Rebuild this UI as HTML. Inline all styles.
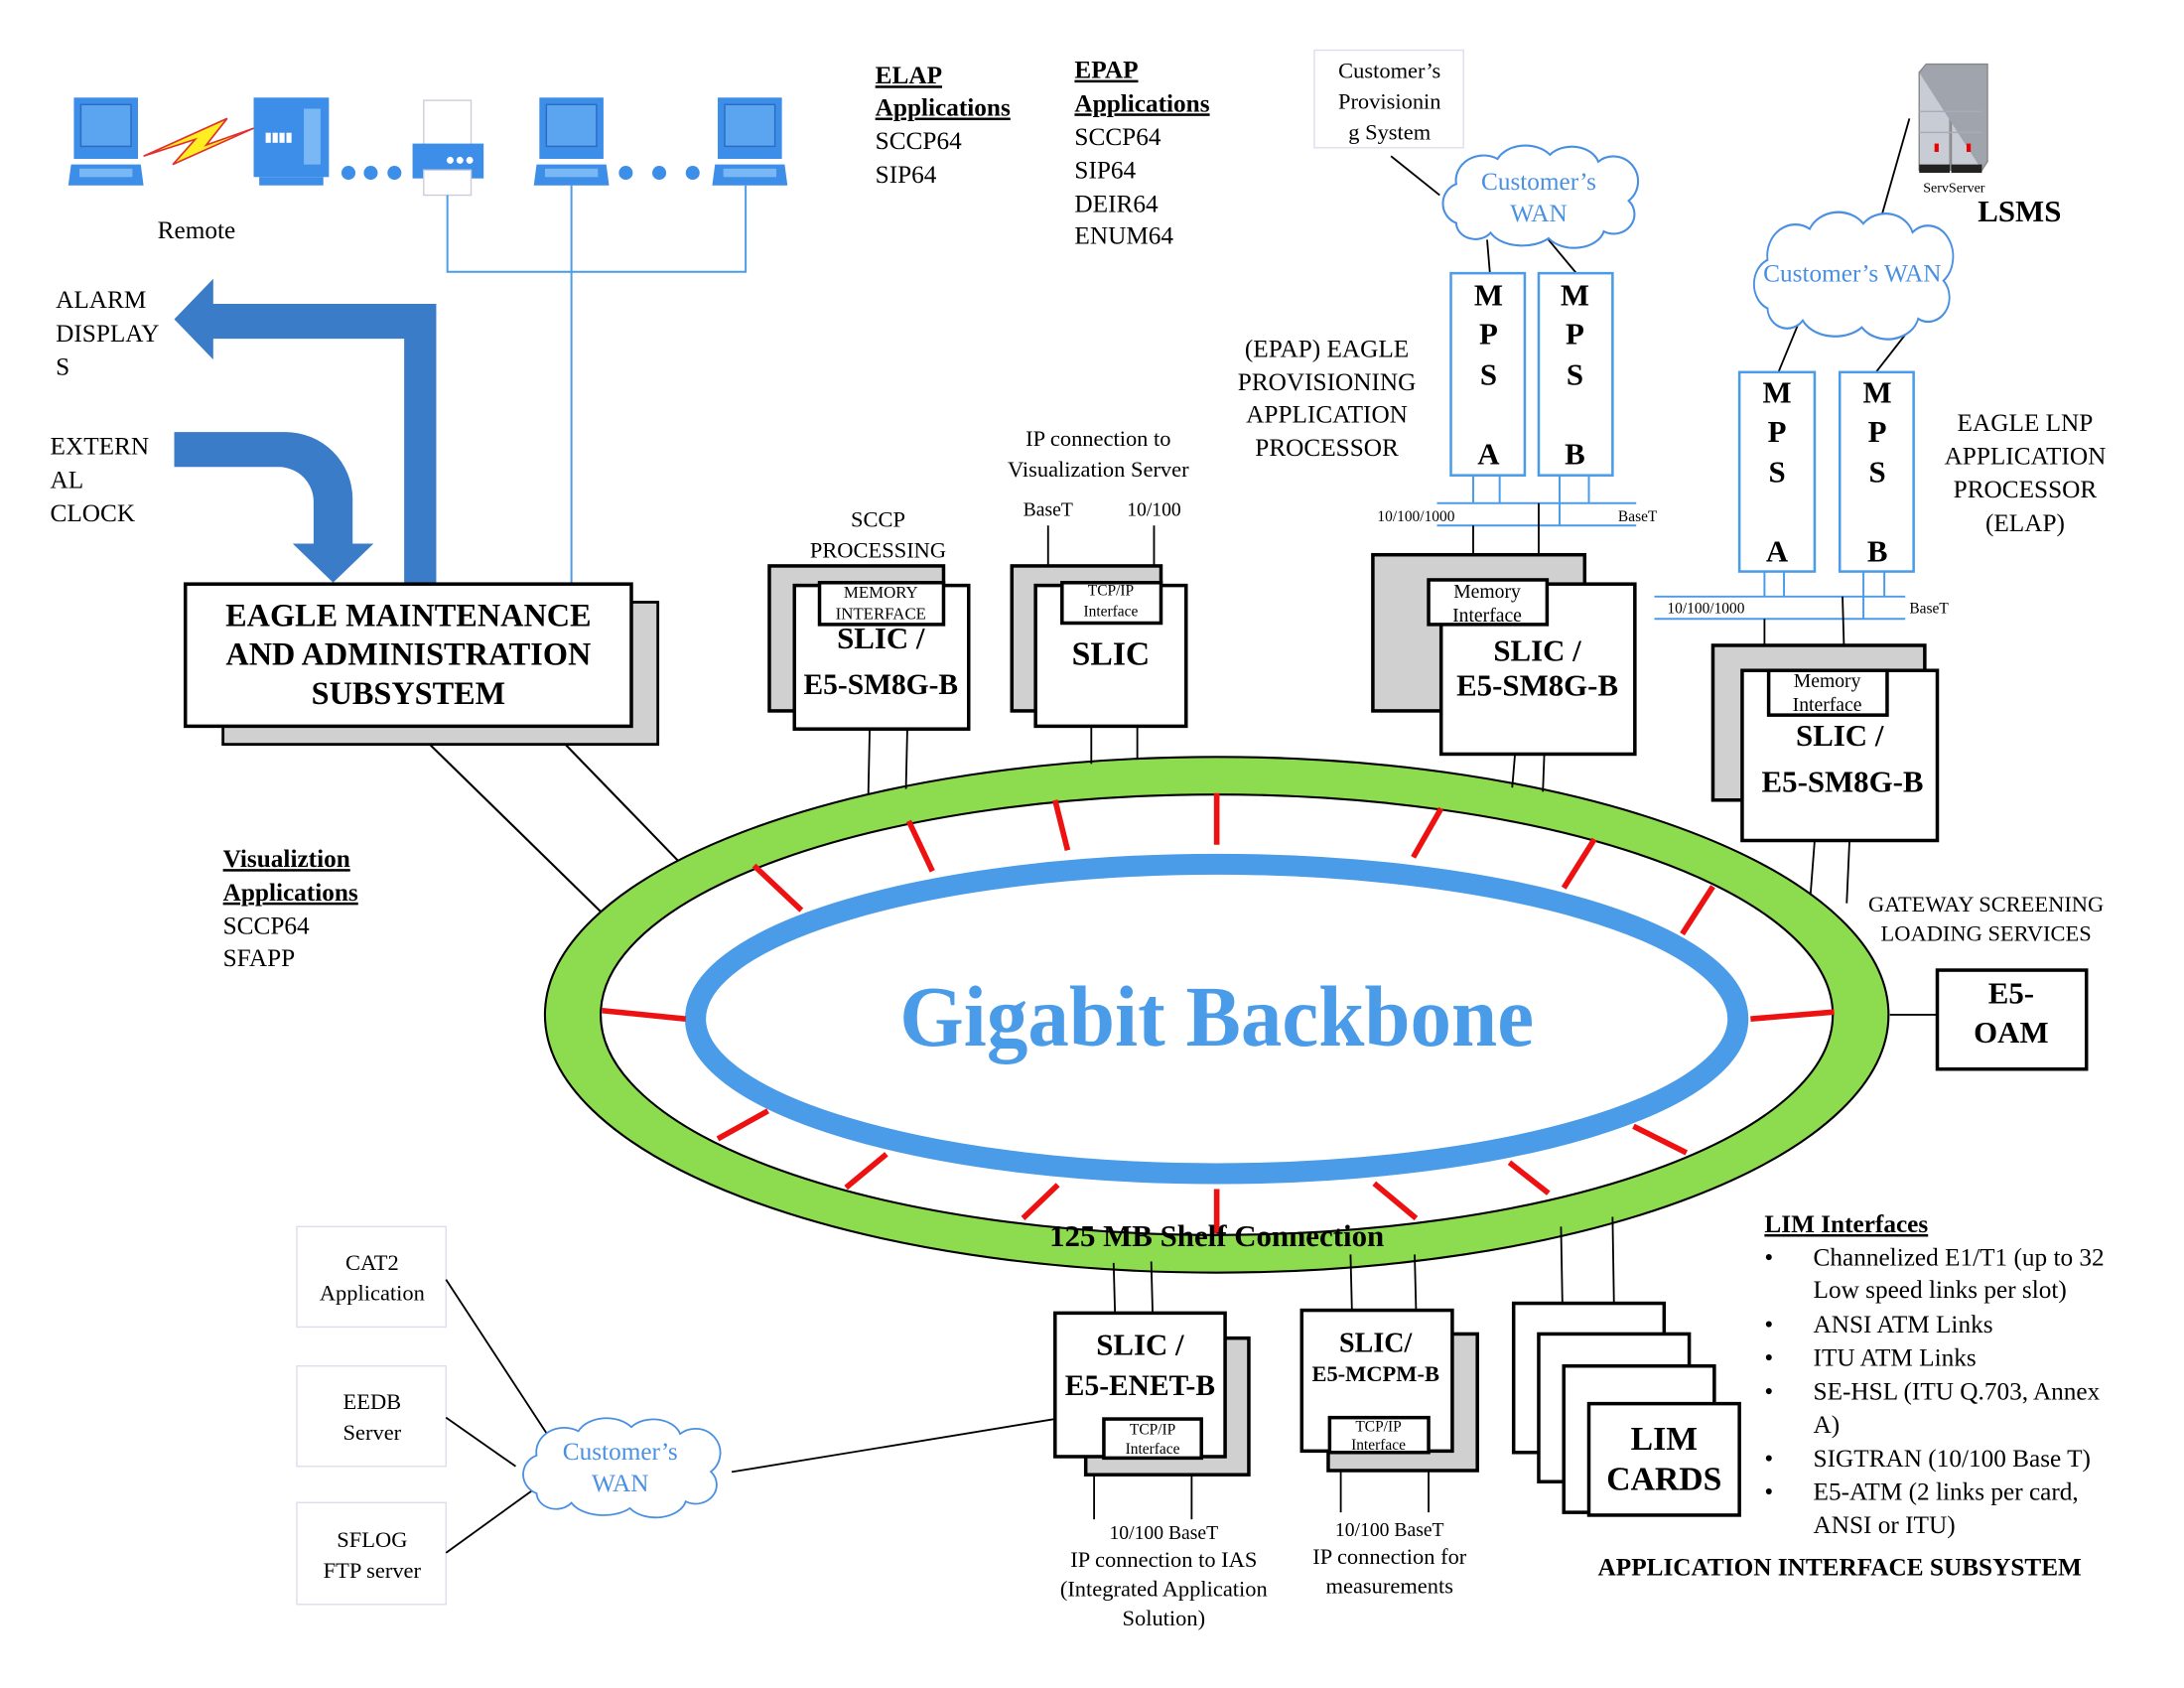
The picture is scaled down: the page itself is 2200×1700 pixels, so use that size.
<!DOCTYPE html>
<html><head><meta charset="utf-8"><style>
html,body{margin:0;padding:0;background:#fff;}
svg{display:block;}
text{font-family:"Liberation Serif",serif;fill:#000;}
.c{text-anchor:middle;}
.b{font-weight:bold;}
.bl{fill:#4a90e2;}
</style></head><body>
<svg width="2200" height="1700" viewBox="0 0 1567 1211" preserveAspectRatio="none" xmlns="http://www.w3.org/2000/svg">
<defs>
<path id="cloud" d="M20,55 a15,15 0 0 1 0,-28 a20,18 0 0 1 30,-18 a22,16 0 0 1 38,-3 a20,15 0 0 1 35,5 a17,17 0 0 1 22,28 a15,14 0 0 1 -18,22 a22,15 0 0 1 -40,5 a25,15 0 0 1 -42,-4 a14,12 0 0 1 -25,-7 z"/>
<g id="laptop"><rect x="4" y="0" width="46" height="44" fill="#3d8ee8"/><rect x="9" y="5" width="36" height="30" fill="#5aa4f0" stroke="#2a6cc0" stroke-width="1"/><path d="M2,48 h50 l2,15 h-54 z" fill="#3d8ee8"/><rect x="8" y="51" width="38" height="6" fill="#7ab8f5"/></g>
</defs>

<use href="#laptop" x="49" y="70"/>
<use href="#laptop" x="383" y="70"/>
<use href="#laptop" x="511" y="70"/>
<rect x="182" y="70" width="54" height="57" fill="#3d8ee8"/><rect x="186" y="127" width="46" height="6" fill="#3d8ee8"/>
<rect x="218" y="78" width="12" height="40" fill="#7ab8f5"/>
<text x="190" y="101" style="font-size:9px;fill:#fff;font-weight:bold">▮▮▮▮</text>
<rect x="304" y="72" width="34" height="32" fill="#fff" stroke="#ccd" stroke-width="1"/>
<rect x="296" y="103" width="51" height="25" fill="#3d8ee8"/>
<rect x="304" y="122" width="34" height="18" fill="#fff" stroke="#ccd" stroke-width="1"/>
<circle cx="323" cy="115" r="2.5" fill="#fff"/><circle cx="330" cy="115" r="2.5" fill="#fff"/><circle cx="337" cy="115" r="2.5" fill="#fff"/>
<path d="M103,112 L163,85 L148,104 L182,92 L124,118 L140,100 Z" fill="#ffee22" stroke="#e03030" stroke-width="1.2"/>
<g fill="#3d8ee8"><circle cx="250" cy="124" r="5"/><circle cx="266" cy="124" r="5"/><circle cx="283" cy="124" r="5"/><circle cx="449" cy="124" r="5"/><circle cx="473" cy="124" r="5"/><circle cx="497" cy="124" r="5"/></g>
<g stroke="#4a9be8" stroke-width="1.4" fill="none"><path d="M321,140 V195 H535 V133"/><path d="M410,133 V419"/></g>
<text x="141" y="171" class="c" style="font-size:18px">Remote</text>

<path d="M125,229 L153,200 L153,218 L313,218 L313,419 L290,419 L290,243 L153,243 L153,258 Z" fill="#3a7cc8"/>
<path d="M125,310 L205,310 A48,48 0 0 1 253,358 L253,390 L268,390 L239,418 L210,390 L225,390 L225,360 A25,25 0 0 0 200,335 L125,335 Z" fill="#3a7cc8"/>
<g style="font-size:18px"><text x="40" y="221">ALARM</text><text x="40" y="245">DISPLAY</text><text x="40" y="269">S</text>
<text x="36" y="326">EXTERN</text><text x="36" y="350">AL</text><text x="36" y="374">CLOCK</text></g>

<g style="font-size:18px">
<text x="628" y="60" class="b" text-decoration="underline">ELAP </text><text x="628" y="83" class="b" text-decoration="underline">Applications</text>
<text x="628" y="107">SCCP64</text><text x="628" y="131">SIP64</text>
<text x="771" y="56" class="b" text-decoration="underline">EPAP </text><text x="771" y="80" class="b" text-decoration="underline">Applications</text>
<text x="771" y="104">SCCP64</text><text x="771" y="128">SIP64</text><text x="771" y="152">DEIR64</text><text x="771" y="175">ENUM64</text>
<text x="160" y="622" class="b" text-decoration="underline">Visualiztion </text><text x="160" y="646" class="b" text-decoration="underline">Applications</text>
<text x="160" y="670">SCCP64</text><text x="160" y="693">SFAPP</text>
</g>

<g stroke="#000" stroke-width="1.5" fill="none"><line x1="295" y1="521" x2="432" y2="655"/><line x1="393" y1="521" x2="487" y2="618"/></g>
<ellipse cx="873" cy="728" rx="482" ry="185" fill="#8ddc50" stroke="#000" stroke-width="1.5"/>
<ellipse cx="873" cy="728" rx="442" ry="158" fill="#fff" stroke="#000" stroke-width="1.5"/>
<ellipse cx="873" cy="731" rx="374" ry="111" fill="none" stroke="#4a9be8" stroke-width="15"/>
<g stroke="#ee1111" stroke-width="4">
<line x1="541" y1="621" x2="575" y2="653"/><line x1="652" y1="589" x2="669" y2="625"/><line x1="757" y1="574" x2="766" y2="610"/><line x1="873" y1="569" x2="873" y2="606"/><line x1="1034" y1="580" x2="1014" y2="615"/><line x1="1144" y1="602" x2="1122" y2="637"/><line x1="1229" y1="636" x2="1207" y2="670"/><line x1="432" y1="725" x2="492" y2="731"/><line x1="1316" y1="726" x2="1256" y2="731"/><line x1="515" y1="817" x2="551" y2="797"/><line x1="607" y1="852" x2="636" y2="828"/><line x1="734" y1="874" x2="759" y2="850"/><line x1="873" y1="885" x2="873" y2="853"/><line x1="1016" y1="874" x2="986" y2="849"/><line x1="1111" y1="856" x2="1083" y2="834"/><line x1="1210" y1="827" x2="1172" y2="808"/></g>
<text x="873" y="750" class="c b" style="font-size:62px;fill:#4a9be8" textLength="455" lengthAdjust="spacingAndGlyphs">Gigabit Backbone</text>
<text x="873" y="894" class="c b" style="font-size:22px">125 MB Shelf Connection</text>

<rect x="160" y="432" width="312" height="102" fill="#d0d0d0" stroke="#000" stroke-width="2"/>
<rect x="133" y="419" width="320" height="102" fill="#fff" stroke="#000" stroke-width="2.5"/>
<g class="c b" style="font-size:23px"><text x="293" y="449" class="c b">EAGLE MAINTENANCE</text><text x="293" y="477" class="c b">AND ADMINISTRATION</text><text x="293" y="505" class="c b">SUBSYSTEM</text></g>

<text x="630" y="378" class="c" style="font-size:16px">SCCP</text><text x="630" y="400" class="c" style="font-size:16px">PROCESSING</text>
<rect x="552" y="406" width="125" height="104" fill="#d0d0d0" stroke="#000" stroke-width="2.5"/>
<rect x="570" y="420" width="125" height="103" fill="#fff" stroke="#000" stroke-width="2.5"/>
<rect x="588" y="418" width="89" height="30" fill="#fff" stroke="#000" stroke-width="2.5"/>
<text x="632" y="429" class="c" style="font-size:12px">MEMORY</text><text x="632" y="444" class="c" style="font-size:12px">INTERFACE</text>
<text x="632" y="465" class="c b" style="font-size:22px">SLIC /</text><text x="632" y="498" class="c b" style="font-size:21px">E5-SM8G-B</text>
<g stroke="#000" stroke-width="1.3"><line x1="624" y1="523" x2="623" y2="570"/><line x1="651" y1="523" x2="650" y2="566"/></g>

<text x="788" y="320" class="c" style="font-size:16px">IP connection to</text><text x="788" y="342" class="c" style="font-size:16px">Visualization Server</text>
<text x="752" y="370" class="c" style="font-size:14px">BaseT</text><text x="828" y="370" class="c" style="font-size:14px">10/100</text>
<g stroke="#000" stroke-width="1.3"><line x1="752" y1="377" x2="752" y2="406"/><line x1="828" y1="377" x2="828" y2="415"/><line x1="783" y1="521" x2="783" y2="548"/><line x1="816" y1="521" x2="816" y2="545"/></g>
<rect x="726" y="406" width="107" height="104" fill="#d0d0d0" stroke="#000" stroke-width="2.5"/>
<rect x="743" y="420" width="108" height="101" fill="#fff" stroke="#000" stroke-width="2.5"/>
<rect x="762" y="418" width="71" height="29" fill="#fff" stroke="#000" stroke-width="2.5"/>
<text x="797" y="427" class="c" style="font-size:11px">TCP/IP</text><text x="797" y="442" class="c" style="font-size:11px">Interface</text>
<text x="797" y="477" class="c b" style="font-size:24px">SLIC</text>

<rect x="943" y="36" width="107" height="70" fill="#fff" stroke="#dde" stroke-width="1"/>
<g style="font-size:16px"><text x="997" y="56" class="c">Customer’s</text><text x="997" y="78" class="c">Provisionin</text><text x="997" y="100" class="c">g System</text></g>
<g stroke="#000" stroke-width="1.3"><line x1="998" y1="112" x2="1033" y2="140"/><line x1="1067" y1="172" x2="1069" y2="196"/><line x1="1111" y1="172" x2="1131" y2="196"/></g>
<g transform="translate(1025,105) scale(0.99,1)"><use href="#cloud" fill="#fff" stroke="#4a90e2" stroke-width="1.5"/></g>
<text x="1104" y="136" class="c bl" style="font-size:18px">Customer’s</text><text x="1104" y="159" class="c bl" style="font-size:18px">WAN</text>

<g fill="#fff" stroke="#4a9be8" stroke-width="1.8"><rect x="1041" y="196" width="53" height="145"/><rect x="1104" y="196" width="53" height="145"/></g>
<g class="c b" style="font-size:22px"><text x="1068" y="219" class="c b">M</text><text x="1068" y="247" class="c b">P</text><text x="1068" y="276" class="c b">S</text><text x="1068" y="333" class="c b">A</text>
<text x="1130" y="219" class="c b">M</text><text x="1130" y="247" class="c b">P</text><text x="1130" y="276" class="c b">S</text><text x="1130" y="333" class="c b">B</text></g>
<g stroke="#4a9be8" stroke-width="1.4"><line x1="1031" y1="361" x2="1174" y2="361"/><line x1="1031" y1="377" x2="1174" y2="377"/><line x1="1057" y1="341" x2="1057" y2="361"/><line x1="1076" y1="341" x2="1076" y2="361"/><line x1="1119" y1="341" x2="1119" y2="377"/><line x1="1140" y1="341" x2="1140" y2="361"/></g>
<g stroke="#000" stroke-width="1.3"><line x1="1057" y1="377" x2="1057" y2="398"/><line x1="1104" y1="361" x2="1104" y2="398"/><line x1="1087" y1="541" x2="1085" y2="565"/><line x1="1108" y1="541" x2="1107" y2="568"/></g>
<text x="1016" y="374" class="c" style="font-size:11px">10/100/1000</text><text x="1175" y="374" class="c" style="font-size:11px">BaseT</text>
<g style="font-size:18px"><text x="952" y="256" class="c">(EPAP) EAGLE</text><text x="952" y="280" class="c">PROVISIONING</text><text x="952" y="303" class="c">APPLICATION</text><text x="952" y="327" class="c">PROCESSOR</text></g>
<rect x="985" y="398" width="152" height="112" fill="#d0d0d0" stroke="#000" stroke-width="2.5"/>
<rect x="1034" y="419" width="139" height="122" fill="#fff" stroke="#000" stroke-width="2.5"/>
<rect x="1025" y="416" width="85" height="32" fill="#fff" stroke="#000" stroke-width="2.5"/>
<text x="1067" y="429" class="c" style="font-size:14px">Memory</text><text x="1067" y="446" class="c" style="font-size:14px">Interface</text>
<text x="1103" y="474" class="c b" style="font-size:22px">SLIC /</text><text x="1103" y="499" class="c b" style="font-size:22px">E5-SM8G-B</text>

<g><rect x="1377" y="52" width="22" height="70" fill="#c8ccd4" stroke="#888" stroke-width="1"/><rect x="1400" y="52" width="22" height="70" fill="#c8ccd4" stroke="#888" stroke-width="1"/>
<path d="M1377,52 l5,-6 h44 v70 l-4,6" fill="#a0a4ac" stroke="#888" stroke-width="1"/>
<rect x="1377" y="118" width="22" height="6" fill="#222"/><rect x="1400" y="118" width="22" height="6" fill="#222"/>
<rect x="1388" y="103" width="3" height="6" fill="#e00"/><rect x="1411" y="103" width="3" height="6" fill="#e00"/>
<line x1="1377" y1="80" x2="1422" y2="80" stroke="#aab" stroke-width="1"/><line x1="1377" y1="95" x2="1422" y2="95" stroke="#aab" stroke-width="1"/></g>
<text x="1402" y="138" class="c" style="font-size:10px">ServServer</text>
<text x="1449" y="159" class="c b" style="font-size:22px">LSMS</text>
<g stroke="#000" stroke-width="1.3"><line x1="1370" y1="85" x2="1350" y2="155"/><line x1="1290" y1="233" x2="1276" y2="267"/><line x1="1378" y1="226" x2="1346" y2="267"/></g>
<g transform="translate(1248,153) scale(1.01,1.24)"><use href="#cloud" fill="#fff" stroke="#4a90e2" stroke-width="1.3"/></g>
<text x="1329" y="202" class="c bl" style="font-size:18px">Customer’s WAN</text>

<g fill="#fff" stroke="#4a9be8" stroke-width="1.8"><rect x="1248" y="267" width="54" height="143"/><rect x="1320" y="267" width="53" height="143"/></g>
<g class="c b" style="font-size:22px"><text x="1275" y="289" class="c b">M</text><text x="1275" y="317" class="c b">P</text><text x="1275" y="346" class="c b">S</text><text x="1275" y="403" class="c b">A</text>
<text x="1347" y="289" class="c b">M</text><text x="1347" y="317" class="c b">P</text><text x="1347" y="346" class="c b">S</text><text x="1347" y="403" class="c b">B</text></g>
<g stroke="#4a9be8" stroke-width="1.4"><line x1="1187" y1="428" x2="1367" y2="428"/><line x1="1187" y1="444" x2="1367" y2="444"/><line x1="1266" y1="410" x2="1266" y2="428"/><line x1="1280" y1="410" x2="1280" y2="428"/><line x1="1337" y1="410" x2="1337" y2="444"/><line x1="1352" y1="410" x2="1352" y2="428"/></g>
<g stroke="#000" stroke-width="1.3"><line x1="1266" y1="444" x2="1266" y2="463"/><line x1="1322" y1="428" x2="1323" y2="463"/><line x1="1302" y1="603" x2="1299" y2="642"/><line x1="1327" y1="603" x2="1325" y2="648"/></g>
<text x="1224" y="440" class="c" style="font-size:11px">10/100/1000</text><text x="1384" y="440" class="c" style="font-size:11px">BaseT</text>
<g style="font-size:18px"><text x="1453" y="309" class="c">EAGLE LNP</text><text x="1453" y="333" class="c">APPLICATION</text><text x="1453" y="357" class="c">PROCESSOR</text><text x="1453" y="381" class="c">(ELAP)</text></g>
<rect x="1229" y="463" width="152" height="111" fill="#d0d0d0" stroke="#000" stroke-width="2.5"/>
<rect x="1250" y="481" width="140" height="122" fill="#fff" stroke="#000" stroke-width="2.5"/>
<rect x="1269" y="481" width="85" height="32" fill="#fff" stroke="#000" stroke-width="2.5"/>
<text x="1311" y="493" class="c" style="font-size:14px">Memory</text><text x="1311" y="510" class="c" style="font-size:14px">Interface</text>
<text x="1320" y="535" class="c b" style="font-size:22px">SLIC /</text><text x="1322" y="568" class="c b" style="font-size:22px">E5-SM8G-B</text>

<text x="1425" y="654" class="c" style="font-size:16px">GATEWAY SCREENING</text><text x="1425" y="675" class="c" style="font-size:16px">LOADING SERVICES</text>
<line x1="1356" y1="728" x2="1390" y2="728" stroke="#000" stroke-width="1.3"/>
<rect x="1390" y="696" width="107" height="71" fill="#fff" stroke="#000" stroke-width="2.5"/>
<text x="1443" y="720" class="c b" style="font-size:22px">E5-</text><text x="1443" y="748" class="c b" style="font-size:22px">OAM</text>

<g fill="#fff" stroke="#dde" stroke-width="1"><rect x="213" y="880" width="107" height="72"/><rect x="213" y="980" width="107" height="72"/><rect x="213" y="1078" width="107" height="73"/></g>
<g style="font-size:16px"><text x="267" y="911" class="c">CAT2</text><text x="267" y="933" class="c">Application</text><text x="267" y="1011" class="c">EEDB</text><text x="267" y="1033" class="c">Server</text><text x="267" y="1110" class="c">SFLOG</text><text x="267" y="1132" class="c">FTP server</text></g>
<g stroke="#000" stroke-width="1.3"><line x1="320" y1="918" x2="392" y2="1028"/><line x1="320" y1="1017" x2="370" y2="1052"/><line x1="320" y1="1114" x2="392" y2="1062"/><line x1="525" y1="1056" x2="757" y2="1018"/></g>
<g transform="translate(365,1018) scale(1,0.97)"><use href="#cloud" fill="#fff" stroke="#4a90e2" stroke-width="1.3"/></g>
<text x="445" y="1047" class="c bl" style="font-size:18px">Customer’s</text><text x="445" y="1070" class="c bl" style="font-size:18px">WAN</text>

<g stroke="#000" stroke-width="1.3"><line x1="800" y1="942" x2="799" y2="906"/><line x1="827" y1="942" x2="826" y2="905"/><line x1="785" y1="1058" x2="785" y2="1090"/><line x1="855" y1="1058" x2="855" y2="1090"/>
<line x1="970" y1="940" x2="969" y2="900"/><line x1="1016" y1="940" x2="1015" y2="900"/><line x1="962" y1="1055" x2="962" y2="1085"/><line x1="1025" y1="1055" x2="1025" y2="1085"/>
<line x1="1121" y1="935" x2="1120" y2="880"/><line x1="1158" y1="935" x2="1157" y2="873"/></g>
<rect x="779" y="960" width="117" height="98" fill="#d0d0d0" stroke="#000" stroke-width="2.5"/>
<rect x="757" y="942" width="122" height="103" fill="#fff" stroke="#000" stroke-width="2.5"/>
<rect x="792" y="1018" width="70" height="28" fill="#fff" stroke="#000" stroke-width="2.5"/>
<text x="827" y="1029" class="c" style="font-size:11px">TCP/IP</text><text x="827" y="1043" class="c" style="font-size:11px">Interface</text>
<text x="818" y="972" class="c b" style="font-size:22px">SLIC /</text><text x="818" y="1001" class="c b" style="font-size:21px">E5-ENET-B</text>
<g style="font-size:16px"><text x="835" y="1104" class="c" style="font-size:14px">10/100   BaseT</text><text x="835" y="1124" class="c">IP connection to IAS</text><text x="835" y="1145" class="c">(Integrated Application</text><text x="835" y="1166" class="c">Solution)</text></g>

<rect x="953" y="957" width="107" height="98" fill="#d0d0d0" stroke="#000" stroke-width="2.5"/>
<rect x="934" y="940" width="108" height="101" fill="#fff" stroke="#000" stroke-width="2.5"/>
<rect x="954" y="1017" width="71" height="25" fill="#fff" stroke="#000" stroke-width="2.5"/>
<text x="989" y="1027" class="c" style="font-size:11px">TCP/IP</text><text x="989" y="1040" class="c" style="font-size:11px">Interface</text>
<text x="987" y="970" class="c b" style="font-size:20px">SLIC/</text><text x="987" y="991" class="c b" style="font-size:16px">E5-MCPM-B</text>
<g style="font-size:16px"><text x="997" y="1102" class="c" style="font-size:14px">10/100   BaseT</text><text x="997" y="1122" class="c">IP connection for</text><text x="997" y="1143" class="c">measurements</text></g>

<g fill="#fff" stroke="#000" stroke-width="2.5"><rect x="1086" y="935" width="108" height="107"/><rect x="1104" y="957" width="108" height="106"/><rect x="1122" y="980" width="108" height="105"/><rect x="1140" y="1007" width="108" height="80"/></g>
<text x="1194" y="1040" class="c b" style="font-size:24px">LIM</text><text x="1194" y="1069" class="c b" style="font-size:24px">CARDS</text>
<g style="font-size:18px">
<text x="1266" y="884" class="b" text-decoration="underline">LIM Interfaces</text>
<text x="1266" y="908">•</text><text x="1301" y="908">Channelized E1/T1 (up to 32</text>
<text x="1301" y="931">Low speed links per slot)</text>
<text x="1266" y="956">•</text><text x="1301" y="956">ANSI ATM Links</text>
<text x="1266" y="980">•</text><text x="1301" y="980">ITU ATM Links</text>
<text x="1266" y="1004">•</text><text x="1301" y="1004">SE-HSL (ITU Q.703, Annex</text>
<text x="1301" y="1028">A)</text>
<text x="1266" y="1052">•</text><text x="1301" y="1052">SIGTRAN (10/100 Base T)</text>
<text x="1266" y="1076">•</text><text x="1301" y="1076">E5-ATM (2 links per card,</text>
<text x="1301" y="1100">ANSI or ITU)</text>
<text x="1320" y="1130" class="c b">APPLICATION INTERFACE SUBSYSTEM</text>
</g>
</svg>
</body></html>
